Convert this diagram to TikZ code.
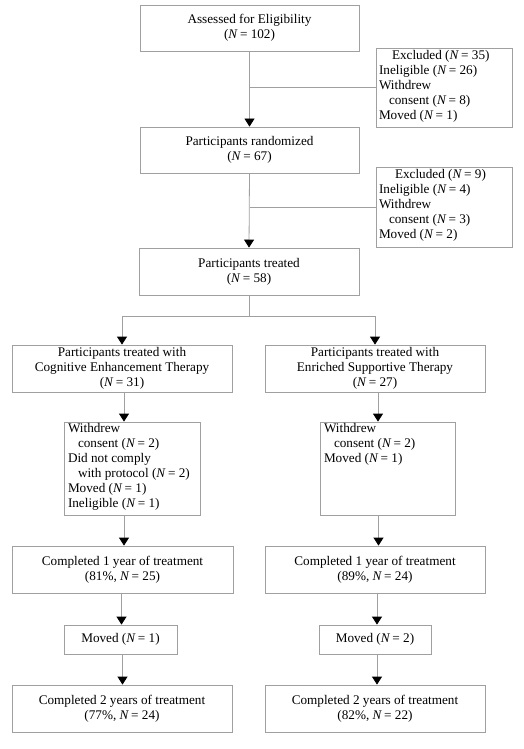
\documentclass[tikz,border=0pt]{standalone}
\usepackage{fontspec}
\setmainfont{Liberation Serif}
\usetikzlibrary{arrows.meta}
\newcommand\NN{\textit{N}\,=\ }
\newcommand\tbox[3]{\parbox[c][#2][t]{#1}{\raggedright #3}}
\definecolor{edge}{RGB}{160,160,160}
\begin{document}
\begin{tikzpicture}[x=1pt,y=-1pt,
  font=\fontsize{13.2}{15}\selectfont,
  box/.style={draw=edge, line width=0.8pt, rectangle, align=center, inner sep=0pt},
  xbox/.style={draw=edge, line width=0.8pt, rectangle, inner sep=0pt},
  link/.style={draw=edge, line width=0.8pt},
  arr/.style={link, -{Triangle[width=10pt,length=8pt,color=black]}}
]
\useasboundingbox (0,0) rectangle (524,749);
\node[box, minimum width=219, minimum height=46] (a) at (249.5,28) {Assessed for Eligibility\\(\NN102)};
\node[xbox, minimum width=136, minimum height=79] (ex1) at (444,87.5) {\tbox{130pt}{75pt}{\hspace*{13pt}Excluded (\NN35)\\Ineligible (\NN26)\\Withdrew\\\hspace*{10pt}consent (\NN8)\\Moved (\NN1)}};
\node[box, minimum width=219, minimum height=46] (r) at (249.5,150) {Participants randomized\\(\NN67)};
\node[xbox, minimum width=136, minimum height=80] (ex2) at (444,207) {\tbox{130pt}{76pt}{\hspace*{16pt}Excluded (\NN9)\\Ineligible (\NN4)\\Withdrew\\\hspace*{10pt}consent (\NN3)\\Moved (\NN2)}};
\node[box, minimum width=220, minimum height=47] (t) at (249,271.5) {Participants treated\\(\NN58)};
\node[box, minimum width=220, minimum height=47] (cet) at (122,368.5) {Participants treated with\\Cognitive Enhancement Therapy\\(\NN31)};
\node[box, minimum width=220, minimum height=47] (est) at (375,368.5) {Participants treated with\\Enriched Supportive Therapy\\(\NN27)};
\node[xbox, minimum width=136, minimum height=93] (wl) at (132,468.5) {\tbox{128pt}{91pt}{Withdrew\\\hspace*{10pt}consent (\NN2)\\Did not comply\\\hspace*{10pt}with protocol (\NN2)\\Moved (\NN1)\\Ineligible (\NN1)}};
\node[xbox, minimum width=135, minimum height=93] (wr) at (387.5,468.5) {\tbox{127pt}{91pt}{Withdrew\\\hspace*{10pt}consent (\NN2)\\Moved (\NN1)}};
\node[box, minimum width=221, minimum height=47] (c1l) at (122.5,569.5) {Completed 1 year of treatment\\(81\%, \NN25)};
\node[box, minimum width=220, minimum height=47] (c1r) at (375,569.5) {Completed 1 year of treatment\\(89\%, \NN24)};
\node[box, minimum width=113, minimum height=29] (ml) at (120.5,639.5) {Moved (\NN1)};
\node[box, minimum width=112, minimum height=29] (mr) at (375,639.5) {Moved (\NN2)};
\node[box, minimum width=220, minimum height=47] (c2l) at (122,708.5) {Completed 2 years of treatment\\(77\%, \NN24)};
\node[box, minimum width=220, minimum height=47] (c2r) at (375,708.5) {Completed 2 years of treatment\\(82\%, \NN22)};
\coordinate (sp) at (249,316);
\draw[arr] (a.south) -- (r.north);
\draw[link] (a.south |- ex1.west) -- (ex1.west);
\draw[arr] (r.south) -- (t.north);
\draw[link] (r.south |- ex2.west) -- (ex2.west);
\draw[link] (t.south) -- (sp);
\draw[arr] (sp) -| (cet.north);
\draw[arr] (sp) -| (est.north);
\draw[arr] ([xshift=2pt]cet.south) -- ([xshift=2pt]cet.south |- wl.north);
\draw[arr] ([xshift=3pt]est.south) -- ([xshift=3pt]est.south |- wr.north);
\draw[arr] ([xshift=-8pt]wl.south) -- ([xshift=-8pt]wl.south |- c1l.north);
\draw[arr] ([xshift=-9pt]wr.south) -- ([xshift=-9pt]wr.south |- c1r.north);
\draw[arr] ([xshift=1pt]ml.north |- c1l.south) -- ([xshift=1pt]ml.north);
\draw[arr] ([xshift=2pt]mr.north |- c1r.south) -- ([xshift=2pt]mr.north);
\draw[arr] ([xshift=2pt]ml.south) -- ([xshift=2pt]ml.south |- c2l.north);
\draw[arr] ([xshift=2pt]mr.south) -- ([xshift=2pt]mr.south |- c2r.north);
\end{tikzpicture}
\end{document}
